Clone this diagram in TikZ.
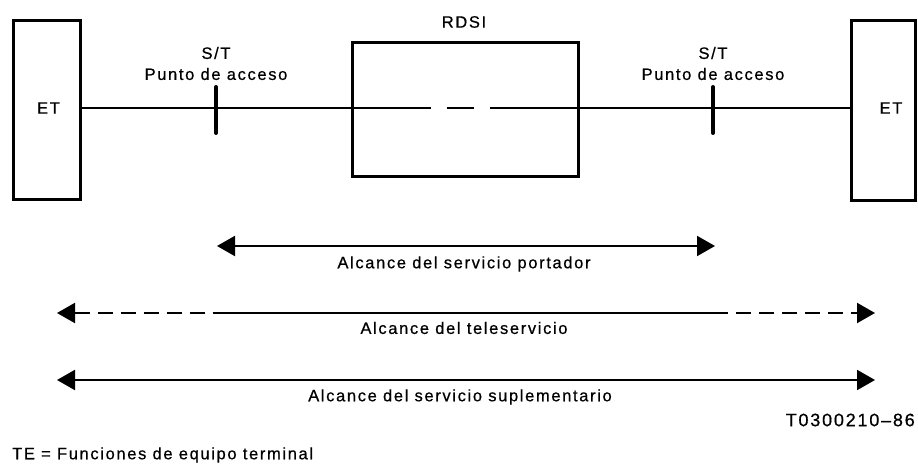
\documentclass[tikz,border=0pt]{standalone}
\usepackage{fontspec}
\setmainfont[LetterSpace=10,FakeBold=0.6]{Liberation Sans}
\usetikzlibrary{arrows.meta,positioning}

\tikzset{
  boxet/.style={draw,line width=3pt,minimum width=#1,inner sep=0pt},
  wire/.style={line width=2pt},
  tickmark/.style={line width=4pt,line cap=round},
  scope arrow/.style={line width=2pt,-{Triangle[length=18pt,width=20pt]}},
  dashwire/.style={line width=2pt,dash pattern=on 15pt off 8pt},
  lbl/.style={font=\fontsize{16.5}{19}\selectfont,inner sep=0pt}
}

\begin{document}
\begin{tikzpicture}[x=1pt,y=1pt,yscale=-1]
\useasboundingbox (0,0) rectangle (918,470);

%Shape: Rectangle left ET
\node [boxet=67pt,minimum height=179pt] (etl) at (46.5,110.5) {};
%Shape: Rectangle right ET
\node [boxet=64pt,minimum height=180pt] (etr) at (883,111) {};
%Shape: Rectangle RDSI
\node [boxet=226pt,minimum height=134pt] (rdsi) at (465,110) {};

%access points
\coordinate (stl) at (216,108);
\coordinate (str) at (713,108);

%Straight Lines main connection
\draw [wire] (etl.east |- stl) -- (stl) -- (rdsi.west |- stl) ;
\draw [wire,dash pattern=on 80pt off 16pt on 27pt off 16pt on 200pt] (rdsi.west |- stl) -- (rdsi.east |- stl) ;
\draw [wire] (rdsi.east |- stl) -- (str) -- (etr.west |- str) ;

%Straight Lines access point marks
\draw [tickmark] (stl) ++(0,-21) -- ++(0,46) ;
\draw [tickmark] (str) ++(0,-21) -- ++(0,46) ;

%scope arrows
\coordinate (bl) at (217,246);
\coordinate (br) at (715,246);
\draw [scope arrow,{Triangle[length=18pt,width=20pt]}-{Triangle[length=18pt,width=20pt]}] (bl) -- (br) ;

\coordinate (tl) at (57,313);
\coordinate (tml) at (215,313);
\coordinate (tmr) at (713,313);
\coordinate (tr) at (875,313);
\draw [dashwire,{Triangle[length=18pt,width=20pt]}-] (tl) -- (tml) ;
\draw [wire] (tml) -- (tmr) ;
\draw [dashwire,-{Triangle[length=18pt,width=20pt]}] (tmr) -- (tr) ;

\coordinate (sl) at (57,380);
\coordinate (sr) at (875,380);
\draw [scope arrow,{Triangle[length=18pt,width=20pt]}-{Triangle[length=18pt,width=20pt]}] (sl) -- (sr) ;

% Text Node
\node [lbl] (etltext) at (48.5,108) {ET};
% Text Node
\node [lbl] (etrtext) at (891,108) {ET};
% Text Node
\node [lbl] (rdsitext) at (464,22) {RDSI};
% Text Node
\node [lbl] (stltext) at (216,53) {S/T};
% Text Node
\node [lbl] (pal) at (216,74) {Punto de acceso};
% Text Node
\node [lbl] (strtext) at (713,53) {S/T};
% Text Node
\node [lbl] (par) at (713,74) {Punto de acceso};
% Text Node
\node [lbl] (portador) at (464,264) {Alcance del servicio portador};
% Text Node
\node [lbl] (tele) at (464,328) {Alcance del teleservicio};
% Text Node
\node [lbl] (supl) at (460,397) {Alcance del servicio suplementario};
% Text Node
\node [lbl,anchor=east,font=\fontsize{18}{21}\selectfont] (figno) at (915,420) {T0300210--86};
% Text Node
\node [lbl,anchor=west] (nota) at (12,455) {TE = Funciones de equipo terminal};

\end{tikzpicture}
\end{document}
